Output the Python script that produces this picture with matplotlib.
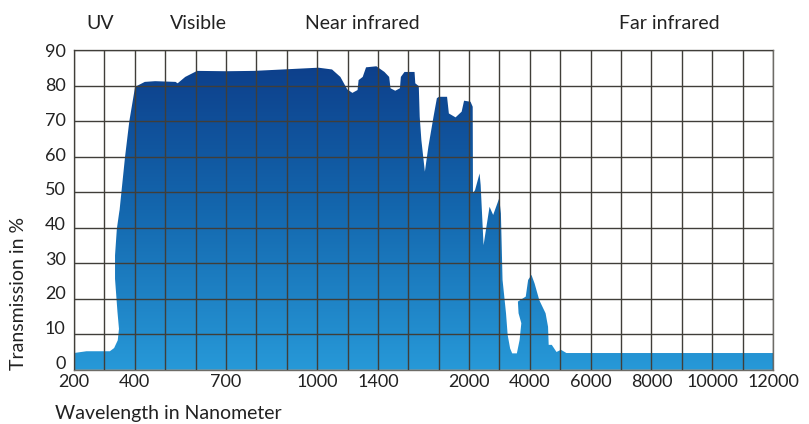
import numpy as np
import matplotlib
matplotlib.use('Agg')
import matplotlib.pyplot as plt
from matplotlib.colors import LinearSegmentedColormap
import matplotlib.transforms as mtransforms

# transmission curve (nm, %)
wavelength = [200, 241, 318, 332, 344, 348, 343, 335, 335, 341, 349, 350, 368, 382,
              401, 433, 467, 534, 541, 566, 605, 701, 793, 1009, 1098, 1153, 1198,
              1232, 1266, 1273, 1300, 1322, 1390, 1443, 1474, 1483, 1514, 1545, 1551,
              1575, 1641, 1646, 1669, 1675, 1686, 1709, 1732, 1766, 1788, 1802, 1855,
              1867, 1911, 1951, 1967, 2048, 2119, 2128, 2196, 2345, 2381, 2476, 2673,
              2792, 2991, 3047, 3101, 3215, 3269, 3350, 3418, 3572, 3663, 3719, 3628,
              3606, 3865, 3943, 4053, 4155, 4310, 4517, 4598, 4619, 4721, 4876, 5024,
              5202, 12000]
transmission = [4.7, 5.2, 5.2, 6.1, 8.3, 11.5, 16.3, 25.6, 32.2, 39.7, 44.5, 45, 60, 70,
                79.7, 81.1, 81.3, 81.1, 80.7, 82.5, 84.2, 84.1, 84.2, 85.1, 84.6, 82.5, 79.0,
                78.0, 78.8, 81.6, 82.5, 85.2, 85.5, 83.9, 82.5, 79.3, 78.6, 79.3, 82.5,
                83.9, 83.9, 80.7, 79.9, 71.3, 64.7, 55.8, 62.8, 71.3, 76.5, 76.9, 76.9,
                72.2, 71.1, 72.7, 75.8, 75.5, 74.1, 49.7, 50.6, 55.3, 52, 35.1, 45.9,
                43.6, 48.3, 44, 25.3, 15.9, 9.8, 6.0, 4.6, 4.6, 8.4, 13.1, 15.9,
                19.2, 20.6, 25.3, 26.7, 24.3, 19.6, 15.9, 12.1, 7.0, 7.0, 5.0, 5.6,
                4.7, 4.7]

tick_nm = [200, 400, 700, 1000, 1400, 2000, 4000, 6000, 8000, 10000, 12000]
tick_pos = [0, 2, 5, 8, 10, 13, 15, 17, 19, 21, 23]
grid_nm = [200, 300, 400, 500, 600, 700, 800, 900, 1000, 1200, 1400, 1600, 1800, 2000,
           3000, 4000, 5000, 6000, 7000, 8000, 9000, 10000, 11000, 12000]
y_ticks = list(range(0, 100, 10))

regions = ['UV', 'Visible', 'Near infrared', 'Far infrared']
region_nm = [285, 610, 1300, 8600]


def fwd(x):
    return np.interp(x, tick_nm, tick_pos)


def inv(p):
    return np.interp(p, tick_pos, tick_nm)


plt.rcParams['font.family'] = ['Lato', 'DejaVu Sans']

fig = plt.figure(figsize=(8.09, 4.24), dpi=100)
ax = fig.add_axes([74 / 809, 1 - 369.7 / 424, (773 - 74) / 809, (369.7 - 50.3) / 424])
ax.set_xscale('function', functions=(fwd, inv))

poly = ax.fill(wavelength + [12000, 200], transmission + [0, 0],
               facecolor='none', edgecolor='none')[0]

cmap = LinearSegmentedColormap.from_list('blues', ['#2799d8', '#1467ae', '#0c3b87'])
grad = np.linspace(0, 1, 256).reshape(-1, 1)
im = ax.imshow(grad, extent=[0, 1, 0, 1], transform=ax.transAxes, origin='lower',
               aspect='auto', cmap=cmap, zorder=1)
im.set_clip_path(poly)

ax.set_xlim(200, 12000)
ax.set_ylim(0, 90)

ax.set_xticks(tick_nm)
ax.set_xticklabels([str(t) for t in tick_nm])
ax.set_xticks(grid_nm, minor=True)
ax.set_yticks(y_ticks)
ax.tick_params(which='both', length=0, labelsize=13, colors='#222222')
ax.tick_params(axis='x', pad=3)
ax.tick_params(axis='y', pad=6)
ax.grid(which='both', axis='x', color='#403e39', linewidth=1.0)
ax.grid(which='major', axis='y', color='#403e39', linewidth=1.0)
ax.set_axisbelow(False)
for s in ax.spines.values():
    s.set_color('#6e6c67')
    s.set_linewidth(1.0)

# y labels in the reference sit a little closer together than the grid
for v, lab in zip(y_ticks, ax.get_yticklabels()):
    shift = 0.085 * (90 - v) / 100
    lab.set_transform(lab.get_transform() + mtransforms.ScaledTranslation(0, shift, fig.dpi_scale_trans))

trans = mtransforms.blended_transform_factory(ax.transData, ax.transAxes)
for name, x in zip(regions, region_nm):
    ax.text(x, 1.085, name, transform=trans, ha='center', va='center',
            fontsize=14, color='#222222')

fig.text(19 / 809, 1 - 293 / 424, 'Transmission in %', rotation=90,
         ha='center', va='center', fontsize=14, color='#222222')
fig.text(55 / 809, 1 - 413 / 424, 'Wavelength in Nanometer',
         ha='left', va='center', fontsize=14, color='#222222')

fig.savefig('out.png', dpi=100)
